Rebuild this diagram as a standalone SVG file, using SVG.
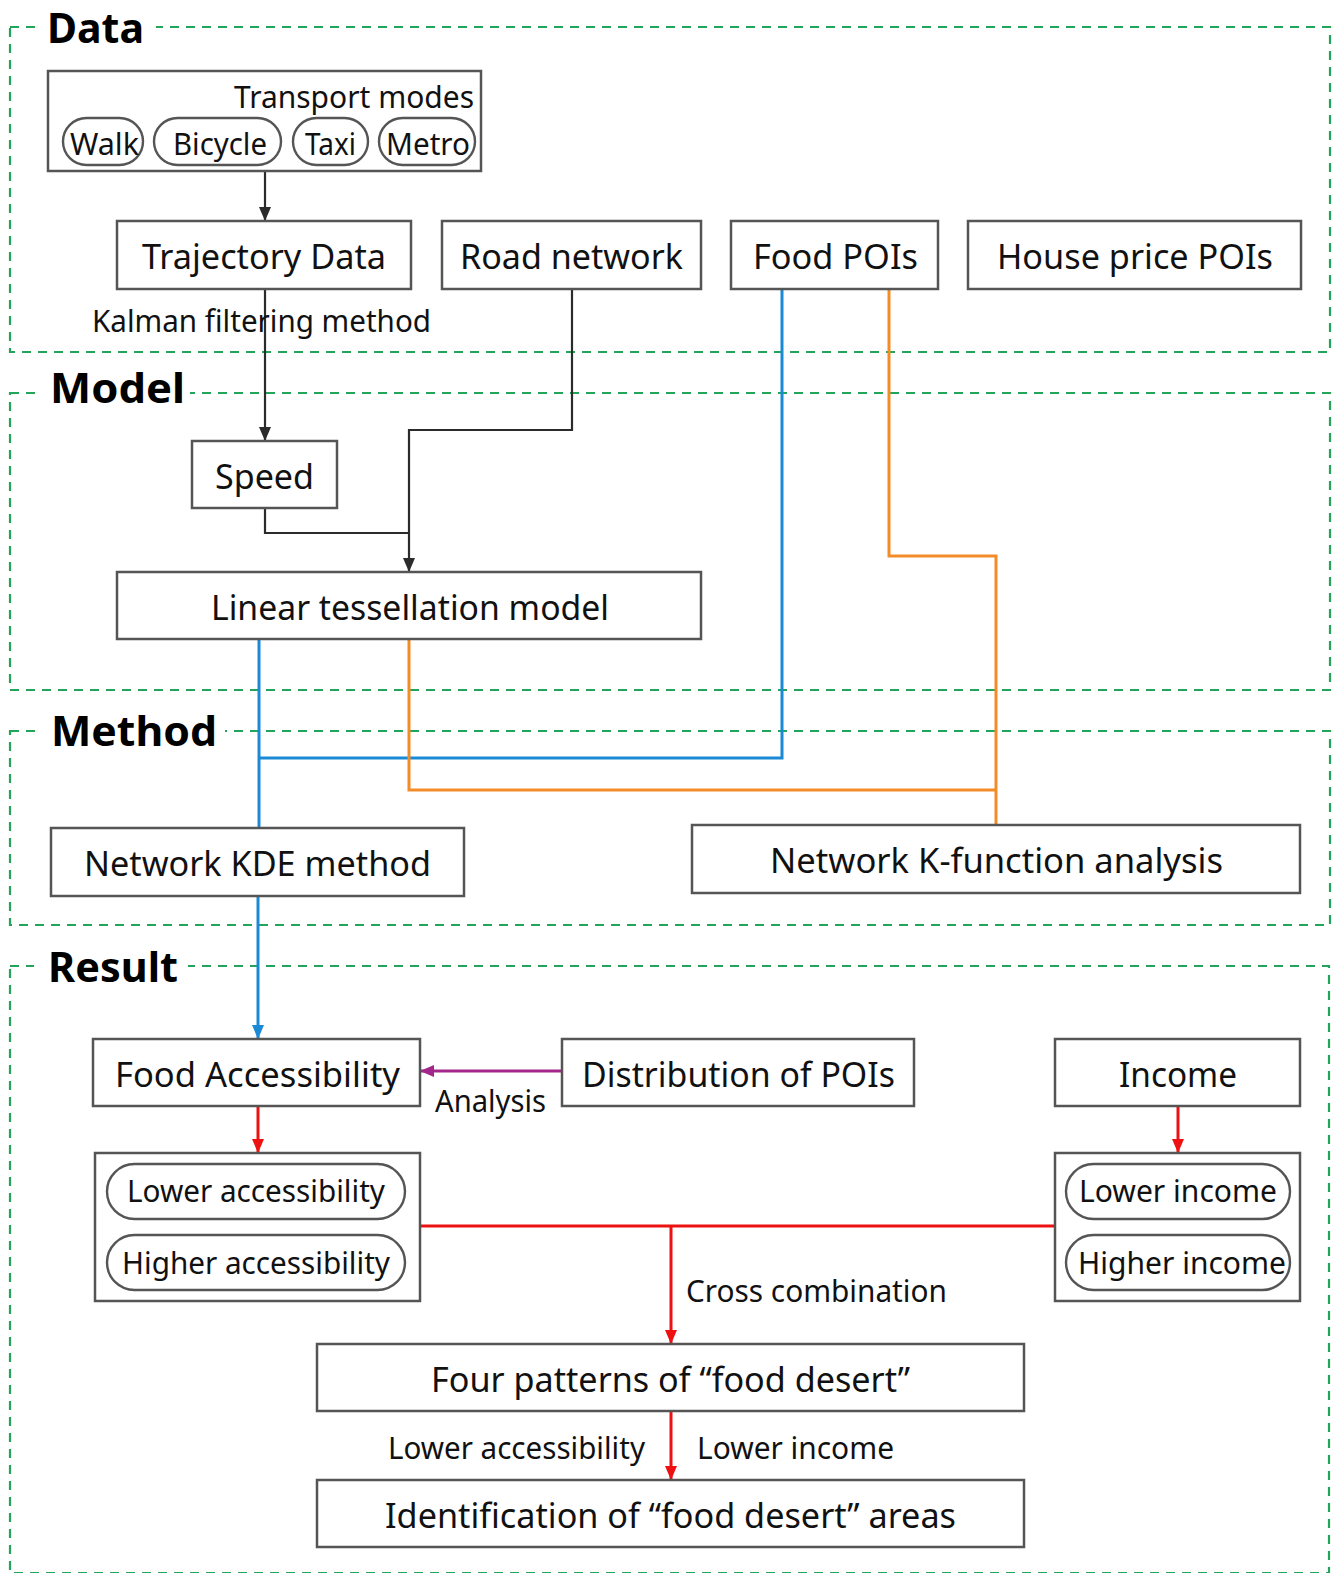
<svg xmlns="http://www.w3.org/2000/svg" width="1338" height="1573" viewBox="0 0 1338 1573">
<defs>
<style>
.frame{fill:none;stroke:#22a55a;stroke-width:2.2;stroke-dasharray:9 7}
.mask{fill:#fff;stroke:none}
.box{fill:#fff;stroke:#555;stroke-width:2.5}
.pill{fill:#fff;stroke:#555;stroke-width:2.4}
.t{font-family:"Noto Sans","Open Sans","DejaVu Sans",sans-serif;fill:#111}
.lg{font-size:34px}
.md{font-size:30px}
.ttl{font-family:"Noto Sans","Open Sans","DejaVu Sans",sans-serif;font-weight:bold;font-size:42px;fill:#000}
.k{fill:none;stroke:#2b2b2b;stroke-width:2.2}
.b{fill:none;stroke:#1b8ad6;stroke-width:3}
.o{fill:none;stroke:#f28c28;stroke-width:3}
.r{fill:none;stroke:#ee1111;stroke-width:3}
.p{fill:none;stroke:#a3268c;stroke-width:3}
</style>
<marker id="ak" markerUnits="userSpaceOnUse" markerWidth="14" markerHeight="14" viewBox="0 0 14 14" refX="13" refY="7" orient="auto"><path d="M0,1 L14,7 L0,13 z" fill="#2b2b2b"/></marker>
<marker id="ab" markerUnits="userSpaceOnUse" markerWidth="14" markerHeight="14" viewBox="0 0 14 14" refX="13" refY="7" orient="auto"><path d="M0,1 L14,7 L0,13 z" fill="#1b8ad6"/></marker>
<marker id="ar" markerUnits="userSpaceOnUse" markerWidth="14" markerHeight="14" viewBox="0 0 14 14" refX="13" refY="7" orient="auto"><path d="M0,1 L14,7 L0,13 z" fill="#ee1111"/></marker>
<marker id="ap" markerUnits="userSpaceOnUse" markerWidth="14" markerHeight="14" viewBox="0 0 14 14" refX="13" refY="7" orient="auto"><path d="M0,1 L14,7 L0,13 z" fill="#a3268c"/></marker>
</defs>
<rect width="1338" height="1573" fill="#fff"/>

<g id="frames">
<rect class="frame" x="10" y="27" width="1320" height="325"/>
<rect class="mask" x="35" y="10" width="121" height="34"/>
<text class="ttl" x="47" y="43" textLength="97" lengthAdjust="spacingAndGlyphs">Data</text>
<rect class="frame" x="10" y="393" width="1320" height="297"/>
<rect class="mask" x="36" y="370" width="154" height="34"/>
<text class="ttl" x="50" y="403" textLength="135" lengthAdjust="spacingAndGlyphs">Model</text>
<rect class="frame" x="10" y="731" width="1320" height="194"/>
<rect class="mask" x="36" y="708" width="189" height="34"/>
<text class="ttl" x="51" y="746" textLength="166" lengthAdjust="spacingAndGlyphs">Method</text>
<rect class="frame" x="10" y="966" width="1319" height="607"/>
<rect class="mask" x="34" y="945" width="154" height="34"/>
<text class="ttl" x="48" y="982" textLength="130" lengthAdjust="spacingAndGlyphs">Result</text>
</g>

<g id="connectors">
<path class="k" d="M265,171 V220" marker-end="url(#ak)"/>
<path class="k" d="M265,289 V440" marker-end="url(#ak)"/>
<path class="k" d="M572,289 V430 H409 V571" marker-end="url(#ak)"/>
<path class="k" d="M265,508 V533 H409"/>
<path class="b" d="M259,639 V828"/>
<path class="b" d="M782,289 V758 H259"/>
<path class="o" d="M889,289 V556 H996 V825"/>
<path class="o" d="M409,639 V790 H996"/>
<path class="b" d="M258,896 V1038" marker-end="url(#ab)"/>
<path class="p" d="M562,1071 H421" marker-end="url(#ap)"/>
<path class="r" d="M258,1106 V1152" marker-end="url(#ar)"/>
<path class="r" d="M1178,1106 V1152" marker-end="url(#ar)"/>
<path class="r" d="M420,1226 H1055"/>
<path class="r" d="M671,1226 V1343" marker-end="url(#ar)"/>
<path class="r" d="M671,1411 V1479" marker-end="url(#ar)"/>
<text class="t md" x="92" y="332" textLength="339" lengthAdjust="spacingAndGlyphs">Kalman filtering method</text>
<text class="t md" x="435" y="1112" textLength="111" lengthAdjust="spacingAndGlyphs">Analysis</text>
<text class="t md" x="686" y="1302" textLength="261" lengthAdjust="spacingAndGlyphs">Cross combination</text>
<text class="t md" x="388" y="1459" textLength="257" lengthAdjust="spacingAndGlyphs">Lower accessibility</text>
<text class="t md" x="697" y="1459" textLength="197" lengthAdjust="spacingAndGlyphs">Lower income</text>
</g>

<g id="transport">
<rect class="box" x="48" y="71" width="433" height="100"/>
<text class="t md" x="234" y="108" textLength="240" lengthAdjust="spacingAndGlyphs">Transport modes</text>
<rect class="pill" x="63" y="118" width="80" height="47" rx="23.5"/>
<text class="t md" x="70" y="155" textLength="69" lengthAdjust="spacingAndGlyphs">Walk</text>
<rect class="pill" x="154" y="118" width="127" height="47" rx="23.5"/>
<text class="t md" x="173" y="155" textLength="94" lengthAdjust="spacingAndGlyphs">Bicycle</text>
<rect class="pill" x="293" y="118" width="75" height="47" rx="23.5"/>
<text class="t md" x="305" y="155" textLength="51" lengthAdjust="spacingAndGlyphs">Taxi</text>
<rect class="pill" x="379" y="118" width="96" height="47" rx="23.5"/>
<text class="t md" x="386" y="155" textLength="84" lengthAdjust="spacingAndGlyphs">Metro</text>
</g>

<g id="trajectory"><rect class="box" x="117" y="221" width="294" height="68"/>
<text class="t lg" x="142" y="269" textLength="244" lengthAdjust="spacingAndGlyphs">Trajectory Data</text></g>
<g id="road"><rect class="box" x="442" y="221" width="259" height="68"/>
<text class="t lg" x="460" y="269" textLength="223" lengthAdjust="spacingAndGlyphs">Road network</text></g>
<g id="foodpois"><rect class="box" x="731" y="221" width="207" height="68"/>
<text class="t lg" x="753" y="269" textLength="165" lengthAdjust="spacingAndGlyphs">Food POIs</text></g>
<g id="housepois"><rect class="box" x="968" y="221" width="333" height="68"/>
<text class="t lg" x="997" y="269" textLength="276" lengthAdjust="spacingAndGlyphs">House price POIs</text></g>

<g id="speed"><rect class="box" x="192" y="441" width="145" height="67"/>
<text class="t lg" x="215" y="489" textLength="99" lengthAdjust="spacingAndGlyphs">Speed</text></g>
<g id="linear"><rect class="box" x="117" y="572" width="584" height="67"/>
<text class="t lg" x="211" y="620" textLength="398" lengthAdjust="spacingAndGlyphs">Linear tessellation model</text></g>

<g id="kde"><rect class="box" x="51" y="828" width="413" height="68"/>
<text class="t lg" x="84" y="876" textLength="347" lengthAdjust="spacingAndGlyphs">Network KDE method</text></g>
<g id="kfunc"><rect class="box" x="692" y="825" width="608" height="68"/>
<text class="t lg" x="770" y="873" textLength="453" lengthAdjust="spacingAndGlyphs">Network K-function analysis</text></g>

<g id="foodacc"><rect class="box" x="93" y="1039" width="327" height="67"/>
<text class="t lg" x="115" y="1087" textLength="285" lengthAdjust="spacingAndGlyphs">Food Accessibility</text></g>
<g id="distribution"><rect class="box" x="562" y="1039" width="352" height="67"/>
<text class="t lg" x="582" y="1087" textLength="313" lengthAdjust="spacingAndGlyphs">Distribution of POIs</text></g>
<g id="income"><rect class="box" x="1055" y="1039" width="245" height="67"/>
<text class="t lg" x="1119" y="1087" textLength="118" lengthAdjust="spacingAndGlyphs">Income</text></g>

<g id="accessgroup">
<rect class="box" x="95" y="1153" width="325" height="148"/>
<rect class="pill" x="107" y="1164" width="298" height="55" rx="27.5"/>
<text class="t md" x="127" y="1202" textLength="258" lengthAdjust="spacingAndGlyphs">Lower accessibility</text>
<rect class="pill" x="107" y="1235" width="298" height="55" rx="27.5"/>
<text class="t md" x="122" y="1274" textLength="268" lengthAdjust="spacingAndGlyphs">Higher accessibility</text>
</g>
<g id="incomegroup">
<rect class="box" x="1055" y="1153" width="245" height="148"/>
<rect class="pill" x="1066" y="1164" width="224" height="55" rx="27.5"/>
<text class="t md" x="1079" y="1202" textLength="198" lengthAdjust="spacingAndGlyphs">Lower income</text>
<rect class="pill" x="1066" y="1235" width="224" height="55" rx="27.5"/>
<text class="t md" x="1078" y="1274" textLength="208" lengthAdjust="spacingAndGlyphs">Higher income</text>
</g>

<g id="fourpatterns"><rect class="box" x="317" y="1344" width="707" height="67"/>
<text class="t lg" x="431" y="1392" textLength="479" lengthAdjust="spacingAndGlyphs">Four patterns of “food desert”</text></g>
<g id="identification"><rect class="box" x="317" y="1480" width="707" height="67"/>
<text class="t lg" x="385" y="1528" textLength="571" lengthAdjust="spacingAndGlyphs">Identification of “food desert” areas</text></g>
</svg>
